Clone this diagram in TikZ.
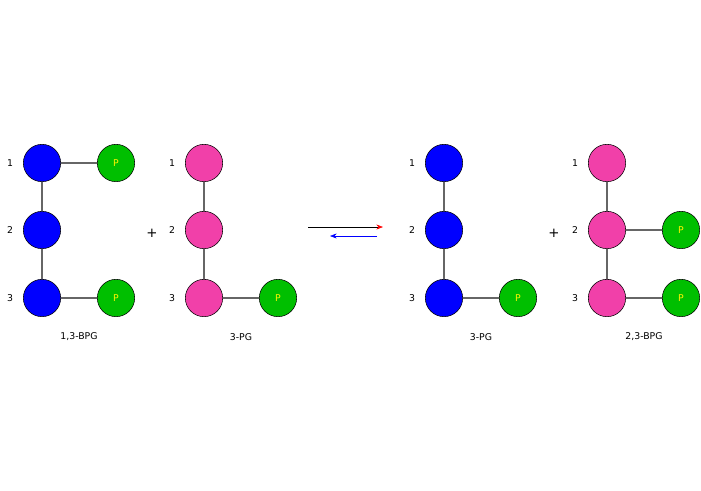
\documentclass[tikz,border=0pt]{standalone}
\usepackage{fontspec}
\setmainfont{DejaVu Sans}
\usetikzlibrary{arrows.meta}
\tikzset{
  atom/.style={circle, draw=black, minimum size=28pt, inner sep=0pt},
  carb/.style={atom, fill=blue},
  pink/.style={atom, fill=magenta!75!white},
  phos/.style={atom, fill=green!75!black, font=\scriptsize, text=yellow},
  bond/.style={draw=black!60, line width=0.8pt},
  num/.style={font=\scriptsize},
  caption/.style={font=\scriptsize}
}
\begin{document}
\begin{tikzpicture}[x=0.75pt, y=-0.75pt]
  \useasboundingbox (0,0) rectangle (701,490);
  % 1,3-BPG
  \node[carb] (a1) at (42,163) {};
  \node[carb] (a2) at (42,230) {};
  \node[carb] (a3) at (42,298) {};
  \node[phos] (ap1) at (116,163) {P};
  \node[phos] (ap3) at (116,298) {P};
  \draw[bond] (a1) -- (a2) (a2) -- (a3) (a1) -- (ap1) (a3) -- (ap3);
  \node[num] at (10,163) {1};
  \node[num] at (10,230) {2};
  \node[num] at (10,298) {3};
  \node[caption] (capa) at (79,337) {1,3-BPG};
  \node (plusa) at (152,233) {+};
  % 3-PG
  \node[pink] (b1) at (204,163) {};
  \node[pink] (b2) at (204,230) {};
  \node[pink] (b3) at (204,298) {};
  \node[phos] (bp3) at (278,298) {P};
  \draw[bond] (b1) -- (b2) (b2) -- (b3) (b3) -- (bp3);
  \node[num] at (172,163) {1};
  \node[num] at (172,230) {2};
  \node[num] at (172,298) {3};
  \node[caption] (capb) at (241,337) {3-PG};
  % equilibrium arrows
  \coordinate (r0) at (308,227);
  \coordinate (r1) at (383,227);
  \coordinate (l0) at (377,236);
  \coordinate (l1) at (330,236);
  \draw[-{Stealth[length=5pt,red]}, line width=0.4pt] (r0) -- (r1);
  \draw[-{Stealth[length=5pt,blue]}, blue, line width=0.4pt] (l0) -- (l1);
  % 3-PG
  \node[carb] (c1) at (444,163) {};
  \node[carb] (c2) at (444,230) {};
  \node[carb] (c3) at (444,298) {};
  \node[phos] (cp3) at (518,298) {P};
  \draw[bond] (c1) -- (c2) (c2) -- (c3) (c3) -- (cp3);
  \node[num] at (412,163) {1};
  \node[num] at (412,230) {2};
  \node[num] at (412,298) {3};
  \node[caption] (capc) at (481,337) {3-PG};
  \node (plusb) at (554,233) {+};
  % 2,3-BPG
  \node[pink] (d1) at (607,163) {};
  \node[pink] (d2) at (607,230) {};
  \node[pink] (d3) at (607,298) {};
  \node[phos] (dp2) at (681,230) {P};
  \node[phos] (dp3) at (681,298) {P};
  \draw[bond] (d1) -- (d2) (d2) -- (d3) (d2) -- (dp2) (d3) -- (dp3);
  \node[num] at (575,163) {1};
  \node[num] at (575,230) {2};
  \node[num] at (575,298) {3};
  \node[caption] (capd) at (644,337) {2,3-BPG};
\end{tikzpicture}
\end{document}
